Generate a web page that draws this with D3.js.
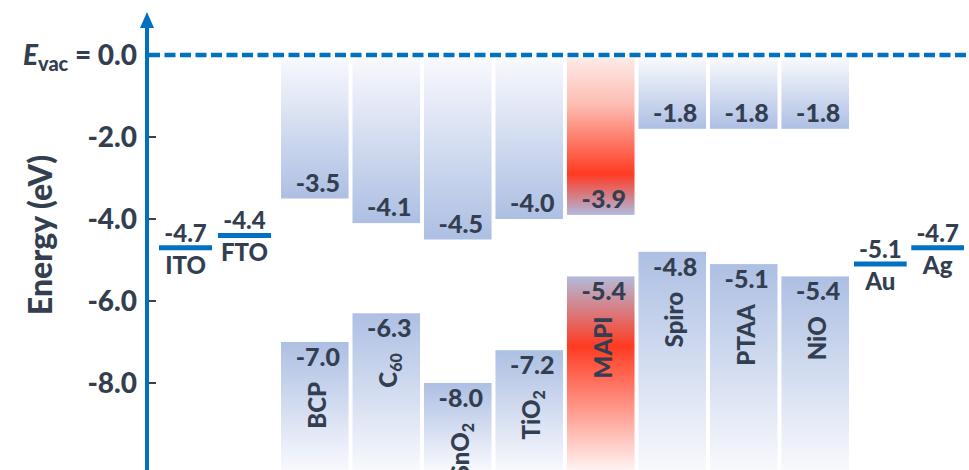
<!DOCTYPE html>
<html>
<head>
<meta charset="utf-8">
<script src="https://cdn.jsdelivr.net/npm/d3@7"></script>
<style>
  html, body { margin: 0; padding: 0; background: #fff; }
  svg text { font-family: Lato, "Open Sans", sans-serif; font-weight: 900; fill: #333f50; }
</style>
</head>
<body>
<svg id="chart" width="969" height="470"></svg>
<script>
// Niveaux d'énergie (eV) des couches
const materials = ['BCP', 'C60', 'SnO2', 'TiO2', 'MAPI', 'Spiro', 'PTAA', 'NiO'];
const lumo = [-3.5, -4.1, -4.5, -4.0, -3.9, -1.8, -1.8, -1.8];
const homo = [-7.0, -6.3, -8.0, -7.2, -5.4, -4.8, -5.1, -5.4];
const perovskite = 'MAPI';

// Électrodes (travail de sortie)
const leftElectrodes = ['ITO', 'FTO'];
const leftWork = [-4.7, -4.4];
const rightElectrodes = ['Au', 'Ag'];
const rightWork = [-5.1, -4.7];

const tickValues = [-2, -4, -6, -8];

const W = 969, H = 470;
const axisX = 147;
const blue = '#0070c0';

const svg = d3.select('#chart');

const y = d3.scaleLinear().domain([0, -10]).range([55, 465]);
const x = d3.scaleBand().domain(materials).range([281, 849]).paddingInner(0.055);
const xl = d3.scaleBand().domain(leftElectrodes).range([159, 271]).paddingInner(0.1);
const xr = d3.scaleBand().domain(rightElectrodes).range([854, 964]).paddingInner(0.08);

// Dégradés
const defs = svg.append('defs');
function grad(id, stops) {
    const g = defs.append('linearGradient').attr('id', id)
        .attr('x1', 0).attr('y1', 0).attr('x2', 0).attr('y2', 1);
    stops.forEach(s => g.append('stop').attr('offset', s[0]).attr('stop-color', s[1]));
}
grad('lumoBlue', [[0, '#f8f9fd'], [1, '#adbfe3']]);
grad('homoBlue', [[0, '#adbfe3'], [1, '#f8f9fd']]);
grad('lumoRed', [[0, '#fdeae7'], [0.3, '#fcbcb2'], [0.74, '#ff3b22'], [1, '#b0b9de']]);
grad('homoRed', [[0, '#b3bbdc'], [0.36, '#ff3b22'], [1, '#fff3f1']]);

const rows = materials.map((m, i) => ({ name: m, lumo: lumo[i], homo: homo[i] }));

// Bandes LUMO
svg.append('g').selectAll('rect')
    .data(rows).join('rect')
    .attr('x', d => x(d.name))
    .attr('y', y(0) + 3)
    .attr('width', x.bandwidth())
    .attr('height', d => y(d.lumo) - y(0) - 3)
    .attr('fill', d => d.name === perovskite ? 'url(#lumoRed)' : 'url(#lumoBlue)');

// Bandes HOMO
svg.append('g').selectAll('rect')
    .data(rows).join('rect')
    .attr('x', d => x(d.name))
    .attr('y', d => y(d.homo))
    .attr('width', x.bandwidth())
    .attr('height', d => H - y(d.homo))
    .attr('fill', d => d.name === perovskite ? 'url(#homoRed)' : 'url(#homoBlue)');

const cx = d => x(d.name) + x.bandwidth() / 2 + 3;

// Valeurs
svg.append('g').selectAll('text')
    .data(rows).join('text')
    .attr('x', cx)
    .attr('y', d => y(d.lumo) - 7)
    .attr('text-anchor', 'middle')
    .style('font-size', '25px')
    .text(d => d.lumo.toFixed(1));

svg.append('g').selectAll('text')
    .data(rows).join('text')
    .attr('x', cx)
    .attr('y', d => y(d.homo) + 24)
    .attr('text-anchor', 'middle')
    .style('font-size', '25px')
    .text(d => d.homo.toFixed(1));

// Noms (verticaux, chiffres en indice)
svg.append('g').selectAll('text')
    .data(rows).join('text')
    .attr('transform', d => `translate(${cx(d) + 8},${y(d.homo) + 40}) rotate(-90)`)
    .attr('text-anchor', 'end')
    .style('font-size', '24px')
    .each(function(d) {
        const t = d3.select(this);
        d.name.split(/(\d+)/).filter(s => s).forEach(part => {
            if (/^\d+$/.test(part)) {
                t.append('tspan').attr('dy', '0.3em').style('font-size', '16px').text(part);
            } else {
                t.append('tspan').text(part);
            }
        });
    });

// Électrodes
function electrodes(names, vals, scale) {
    const g = svg.append('g');
    names.forEach((n, i) => {
        const x0 = scale(n), bw = scale.bandwidth(), c = x0 + bw / 2;
        g.append('line')
            .attr('x1', x0).attr('x2', x0 + bw)
            .attr('y1', y(vals[i])).attr('y2', y(vals[i]))
            .attr('stroke', blue).attr('stroke-width', 5);
        g.append('text').attr('x', c).attr('y', y(vals[i]) - 6)
            .attr('text-anchor', 'middle').style('font-size', '24px')
            .text(vals[i].toFixed(1));
        g.append('text').attr('x', c).attr('y', y(vals[i]) + 26)
            .attr('text-anchor', 'middle').style('font-size', '24px')
            .text(n);
    });
}
electrodes(leftElectrodes, leftWork, xl);
electrodes(rightElectrodes, rightWork, xr);

// Niveau du vide
svg.append('line')
    .attr('x1', axisX + 2).attr('x2', W)
    .attr('y1', y(0)).attr('y2', y(0))
    .attr('stroke', blue).attr('stroke-width', 4.5)
    .attr('stroke-dasharray', '11,4.5');

// Axe vertical avec flèche
svg.append('line')
    .attr('x1', axisX).attr('x2', axisX)
    .attr('y1', H).attr('y2', 26)
    .attr('stroke', blue).attr('stroke-width', 4);
svg.append('path')
    .attr('d', `M${axisX - 7},28 L${axisX},12 L${axisX + 7},28 Z`)
    .attr('fill', blue);

const ticks = svg.append('g');
ticks.selectAll('line')
    .data(tickValues).join('line')
    .attr('x1', axisX + 2).attr('x2', axisX + 9)
    .attr('y1', d => y(d)).attr('y2', d => y(d))
    .attr('stroke', '#000').attr('stroke-width', 1.5);
ticks.selectAll('text')
    .data(tickValues).join('text')
    .attr('x', 137)
    .attr('y', d => y(d) + 10)
    .attr('text-anchor', 'end')
    .style('font-size', '28px')
    .text(d => d3.format('.1f')(d).replace('−', '-'));

// E_vac = 0.0
const ev = svg.append('text')
    .attr('x', 137).attr('y', y(0) + 10)
    .attr('text-anchor', 'end')
    .style('font-size', '28px');
ev.append('tspan').style('font-style', 'italic').text('E');
ev.append('tspan').attr('dy', 6).style('font-size', '20px').text('vac');
ev.append('tspan').attr('dy', -6).text(' = 0.0');

// Titre de l'axe
svg.append('text')
    .attr('transform', `translate(52,235) rotate(-90)`)
    .attr('text-anchor', 'middle')
    .style('font-size', '32px')
    .text('Energy (eV)');
</script>
</body>
</html>
